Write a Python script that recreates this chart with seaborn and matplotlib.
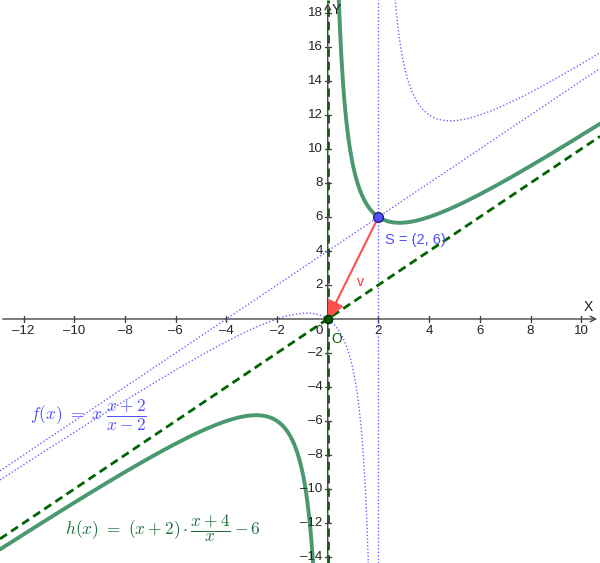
import numpy as np
import matplotlib
matplotlib.use("Agg")
import matplotlib.pyplot as plt
import seaborn as sns

# sichtbarer Bereich
x_min, x_max = -12.93, 10.74
y_min, y_max = -14.35, 18.76

# Achsen-Ticks
x_ticks = [-12, -10, -8, -6, -4, -2, 2, 4, 6, 8, 10]
y_ticks = [-14, -12, -10, -8, -6, -4, -2, 2, 4, 6, 8, 10, 12, 14, 16, 18]

# Punkte
S = (2, 6)
O = (0, 0)

# h(x) = (x+2)*(x+4)/x - 6 ; f(x) = x*(x+2)/(x-2)
def h(x):
    return (x + 2) * (x + 4) / x - 6

def f(x):
    return x * (x + 2) / (x - 2)

sns.set_style("white")
plt.rcParams['font.family'] = ['Liberation Sans', 'DejaVu Sans']
plt.rcParams['mathtext.fontset'] = 'cm'

fig = plt.figure(figsize=(6, 5.63), dpi=100)
ax = fig.add_axes([0, 0, 1, 1])
ax.set_xlim(x_min, x_max)
ax.set_ylim(y_min, y_max)
for s in ax.spines.values():
    s.set_visible(False)
ax.set_xticks([])
ax.set_yticks([])

# Koordinatenachsen
axis_col = "#444444"
ax.annotate("", xy=(x_max, 0), xytext=(x_min, 0),
            arrowprops=dict(arrowstyle="->", color=axis_col, lw=1, mutation_scale=10))
ax.annotate("", xy=(0, y_max), xytext=(0, y_min),
            arrowprops=dict(arrowstyle="->", color=axis_col, lw=1, mutation_scale=10))
tx = 0.12
ty = 0.18
for t in x_ticks:
    ax.plot([t, t], [-ty, ty], color=axis_col, lw=1)
    ax.text(t, -0.35, str(t).replace("-", "\u2013"), ha="center", va="top", fontsize=9.5, color="#222222")
for t in y_ticks:
    ax.plot([-tx, tx], [t, t], color=axis_col, lw=1)
    ax.text(-0.2, t, str(t).replace("-", "\u2013"), ha="right", va="center", fontsize=9.5, color="#222222")
ax.text(-0.2, -0.35, "0", ha="right", va="top", fontsize=9.5, color="#222222")
ax.text(10.1, 0.3, "X", ha="left", va="bottom", fontsize=10, color="#222222")
ax.text(0.15, 18.15, "Y", ha="left", va="center", fontsize=10, color="#222222")

blue = "#6666ff"
green = "#4a9870"
dgreen = "#006400"

# f (gepunktet) mit Asymptoten
xf1 = np.linspace(x_min, 1.99, 800)
xf2 = np.linspace(2.01, x_max, 800)
ax.plot(xf1, f(xf1), color=blue, lw=1, ls=(0, (1, 1.5)))
ax.plot(xf2, f(xf2), color=blue, lw=1, ls=(0, (1, 1.5)))
xl = np.array([x_min, x_max])
ax.plot(xl, xl + 4, color=blue, lw=1, ls=(0, (1, 1.5)))
ax.plot([2, 2], [y_min, y_max], color=blue, lw=1, ls=(0, (1, 1.5)))

# Asymptoten von h (gestrichelt)
ax.plot(xl, xl, color=dgreen, lw=2, ls=(0, (3, 1.8)))
ax.plot([0, 0], [y_min, y_max], color=dgreen, lw=2, ls=(0, (3, 1.8)))

# h
xh1 = np.linspace(x_min, -0.45, 800)
xh2 = np.linspace(0.38, x_max, 800)
sns.lineplot(x=xh1, y=h(xh1), color=green, lw=2.8, ax=ax)
sns.lineplot(x=xh2, y=h(xh2), color=green, lw=2.8, ax=ax)

# Vektor v
ax.annotate("", xy=O, xytext=S, zorder=4,
            arrowprops=dict(arrowstyle="-|>,head_length=0.6,head_width=0.28",
                            color="#ff5050", lw=1.5, mutation_scale=18,
                            shrinkA=0, shrinkB=0))
ax.text(1.15, 2.2, "v", color="#ff3030", fontsize=10, ha="left", va="center")

# Punkte
ax.plot(*S, marker="o", ms=7, mfc="#5050ff", mec="#202080", mew=1, zorder=5)
ax.plot(*O, marker="o", ms=6, mfc="#005a00", mec="#003000", mew=1, zorder=5)
ax.text(2.25, 4.65, "S = (2, 6)", color="#5050ff", fontsize=10.5, ha="left", va="center")
ax.text(0.15, -1.2, "O", color=dgreen, fontsize=10, ha="left", va="center")

# Formeln
ax.text(-11.75, -5.65, r"$f(x)\ =\ x\ \dfrac{x+2}{x-2}$", color="#5050ff",
        fontsize=12.5, ha="left", va="center")
ax.text(-10.38, -12.3, r"$h(x)\ =\ (x+2)\cdot\dfrac{x+4}{x}-6$", color="#1f6f3f",
        fontsize=12.5, ha="left", va="center")

plt.savefig("out.png", dpi=100)
